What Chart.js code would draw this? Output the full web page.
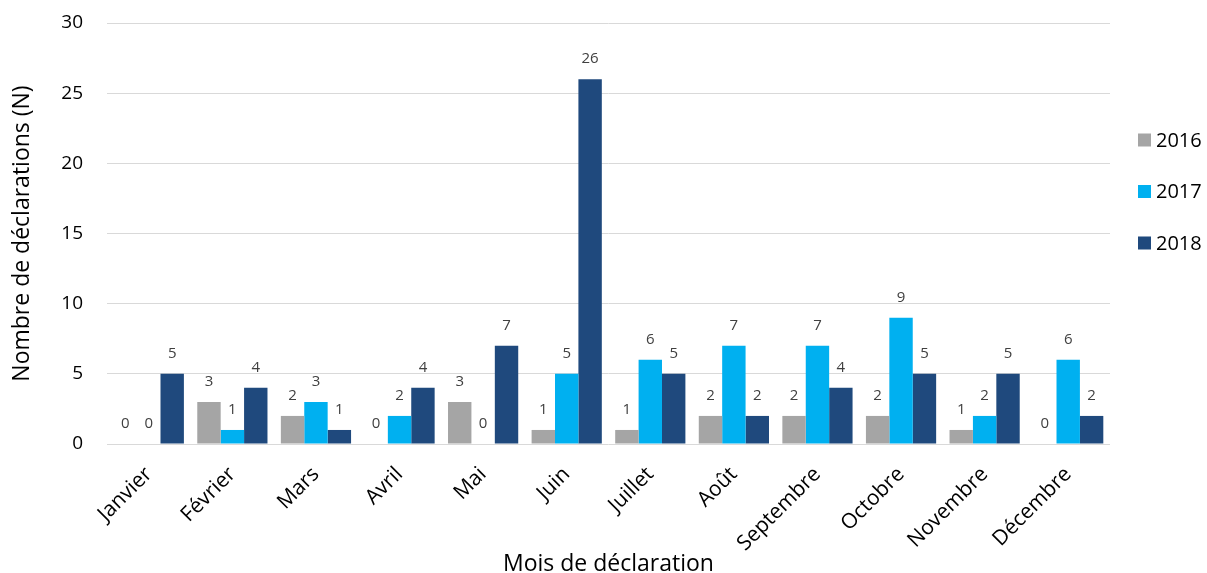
<!DOCTYPE html>
<html lang="fr">
<head>
<meta charset="utf-8">
<title>Déclarations par mois</title>
<script src="https://cdn.jsdelivr.net/npm/chart.js@4/dist/chart.umd.min.js"></script>
<style>
    html, body { margin: 0; padding: 0; background: #fff; }
    #wrap { width: 1207px; height: 573px; }
</style>
</head>
<body>
<div id="wrap"><canvas id="declChart"></canvas></div>
<script>
const months = ['Janvier', 'Février', 'Mars', 'Avril', 'Mai', 'Juin', 'Juillet', 'Août', 'Septembre', 'Octobre', 'Novembre', 'Décembre'];
const years = ['2016', '2017', '2018'];
const counts2016 = [0, 3, 2, 0, 3, 1, 1, 2, 2, 2, 1, 0];
const counts2017 = [0, 1, 3, 2, 0, 5, 6, 7, 7, 9, 2, 6];
const counts2018 = [5, 4, 1, 4, 7, 26, 5, 2, 4, 5, 5, 2];
const yTicks = [0, 5, 10, 15, 20, 25, 30];
const colors = ['#A5A5A5', '#00B0F0', '#1F497D'];

const fontFamily = '"Open Sans", "DejaVu Sans", sans-serif';

// value written above each bar
const barValues = {
    id: 'barValues',
    afterDatasetsDraw(chart) {
        const ctx = chart.ctx;
        ctx.save();
        ctx.font = '15px ' + fontFamily;
        ctx.fillStyle = '#404040';
        ctx.textAlign = 'center';
        ctx.textBaseline = 'alphabetic';
        chart.data.datasets.forEach((ds, i) => {
            chart.getDatasetMeta(i).data.forEach((bar, j) => {
                ctx.fillText(String(ds.data[j]), bar.x, bar.y - 16);
            });
        });
        ctx.restore();
    }
};

// square-marker legend on the right of the plot
const sideLegend = {
    id: 'sideLegend',
    afterDraw(chart) {
        const ctx = chart.ctx;
        const area = chart.chartArea;
        ctx.save();
        ctx.font = '20px ' + fontFamily;
        ctx.textBaseline = 'middle';
        ctx.textAlign = 'left';
        chart.data.datasets.forEach((ds, i) => {
            const y = 140 + i * 51.5;
            const x = area.right + 28;
            ctx.fillStyle = ds.backgroundColor;
            ctx.fillRect(x, y - 6.5, 13, 13);
            ctx.fillStyle = '#000';
            ctx.fillText(ds.label, x + 18, y + 1);
        });
        ctx.restore();
    }
};

const ctx = document.getElementById('declChart').getContext('2d');

const declChart = new Chart(ctx, {
    type: 'bar',
    data: {
        labels: months,
        datasets: [
            { label: years[0], data: counts2016, backgroundColor: colors[0] },
            { label: years[1], data: counts2017, backgroundColor: colors[1] },
            { label: years[2], data: counts2018, backgroundColor: colors[2] }
        ]
    },
    options: {
        responsive: true,
        maintainAspectRatio: false,
        animation: false,
        datasets: {
            bar: {
                categoryPercentage: 0.84,
                barPercentage: 1.0
            }
        },
        layout: {
            padding: { top: 23, right: 97, bottom: 0, left: 0 }
        },
        scales: {
            y: {
                min: 0,
                max: 30,
                afterBuildTicks(axis) {
                    axis.ticks = yTicks.map(v => ({ value: v }));
                },
                afterFit(axis) {
                    // fixed width; no extra room above/below the plot
                    axis.width = 107;
                    axis.paddingTop = 0;
                    axis.paddingBottom = 0;
                },
                border: { display: false },
                grid: {
                    color: '#d9d9d9',
                    lineWidth: 1,
                    drawTicks: false
                },
                ticks: {
                    color: '#000',
                    padding: 24,
                    font: { family: fontFamily, size: 19 }
                },
                title: {
                    display: true,
                    text: 'Nombre de déclarations (N)',
                    color: '#000',
                    padding: { top: 9, bottom: 0 },
                    font: { family: fontFamily, size: 23 }
                }
            },
            x: {
                afterFit(axis) {
                    axis.height = 129;
                },
                border: { display: false },
                grid: { display: false },
                ticks: {
                    color: '#000',
                    minRotation: 45,
                    maxRotation: 45,
                    padding: 10,
                    font: { family: fontFamily, size: 21 }
                },
                title: {
                    display: true,
                    text: 'Mois de déclaration',
                    color: '#000',
                    padding: { top: 0, bottom: -5 },
                    font: { family: fontFamily, size: 23 }
                }
            }
        },
        plugins: {
            legend: { display: false },
            tooltip: { enabled: false }
        }
    },
    plugins: [barValues, sideLegend]
});
</script>
</body>
</html>
